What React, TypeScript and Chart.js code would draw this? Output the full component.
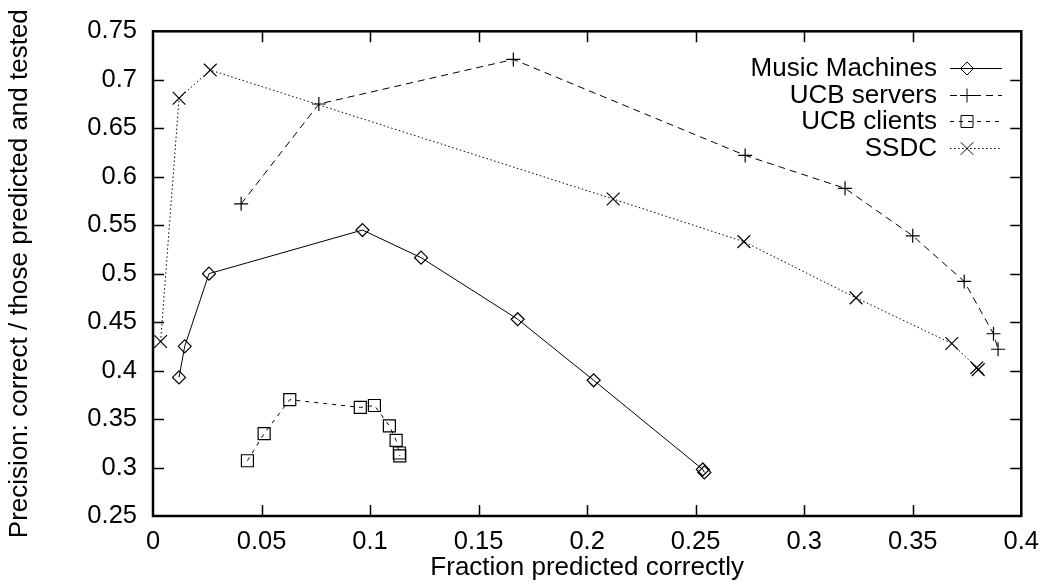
import React, { useEffect, useRef } from 'react';
import { Chart, registerables } from 'chart.js';

Chart.register(...registerables);

const seriesNames = ['Music Machines', 'UCB servers', 'UCB clients', 'SSDC'];

const musicX = [0.012, 0.0146, 0.0258, 0.0965, 0.1235, 0.168, 0.203, 0.2533, 0.254];
const musicY = [0.393, 0.425, 0.5, 0.545, 0.5165, 0.453, 0.39, 0.298, 0.295];

const serversX = [0.0406, 0.0764, 0.166, 0.2728, 0.3188, 0.35, 0.3737, 0.3872, 0.3893];
const serversY = [0.572, 0.675, 0.721, 0.622, 0.588, 0.539, 0.492, 0.438, 0.422];

const clientsX = [0.0435, 0.0512, 0.063, 0.0955, 0.102, 0.1089, 0.112, 0.1135, 0.1137];
const clientsY = [0.307, 0.335, 0.37, 0.362, 0.364, 0.343, 0.328, 0.315, 0.312];

const ssdcX = [0.0035, 0.012, 0.0264, 0.212, 0.2722, 0.3239, 0.368, 0.3795, 0.3802];
const ssdcY = [0.43, 0.681, 0.71, 0.577, 0.533, 0.475, 0.428, 0.403, 0.401];

const xTickLabels = ['0', '0.05', '0.1', '0.15', '0.2', '0.25', '0.3', '0.35', '0.4'];
const yTickLabels = ['0.25', '0.3', '0.35', '0.4', '0.45', '0.5', '0.55', '0.6', '0.65', '0.7', '0.75'];

const xTitle = 'Fraction predicted correctly';
const yTitle = 'Precision: correct / those predicted and tested';

const FONT = "'Liberation Sans', Arial, Helvetica, sans-serif";
const TICK_SIZE = 25.5;
const TITLE_SIZE = 26;

function pts(xs: number[], ys: number[]) {
  return xs.map((x, i) => ({ x, y: ys[i] }));
}

const styles = [
  { pointStyle: 'rectRot', radius: 6.5, dash: [] as number[] },
  { pointStyle: 'cross', radius: 7, dash: [7, 5] },
  { pointStyle: 'rect', radius: 8.5, dash: [4, 5] },
  { pointStyle: 'crossRot', radius: 9, dash: [1.5, 2.5] },
];

function drawMarker(ctx: CanvasRenderingContext2D, style: string, x: number, y: number, r: number) {
  ctx.beginPath();
  if (style === 'rectRot') {
    ctx.moveTo(x, y - r);
    ctx.lineTo(x + r, y);
    ctx.lineTo(x, y + r);
    ctx.lineTo(x - r, y);
    ctx.closePath();
  } else if (style === 'cross') {
    ctx.moveTo(x - r, y);
    ctx.lineTo(x + r, y);
    ctx.moveTo(x, y - r);
    ctx.lineTo(x, y + r);
  } else if (style === 'rect') {
    const s = Math.SQRT1_2 * r;
    ctx.rect(x - s, y - s, 2 * s, 2 * s);
  } else {
    const s = Math.SQRT1_2 * r;
    ctx.moveTo(x - s, y - s);
    ctx.lineTo(x + s, y + s);
    ctx.moveTo(x - s, y + s);
    ctx.lineTo(x + s, y - s);
  }
  ctx.stroke();
}

const framePlugin = {
  id: 'frameTicks',
  afterDraw(chart: any) {
    const { ctx, chartArea, scales } = chart;
    const { left, right, top, bottom } = chartArea;
    const x = scales.x;
    const y = scales.y;
    ctx.save();
    ctx.strokeStyle = '#000';
    ctx.lineWidth = 1.5;
    ctx.setLineDash([]);
    x.ticks.forEach((t: any) => {
      const px = Math.round(x.getPixelForValue(t.value)) + 0.5;
      if (px > left + 2 && px < right - 2) {
        ctx.beginPath();
        ctx.moveTo(px, bottom);
        ctx.lineTo(px, bottom - 11);
        ctx.moveTo(px, top);
        ctx.lineTo(px, top + 11);
        ctx.stroke();
      }
    });
    y.ticks.forEach((t: any) => {
      const py = Math.round(y.getPixelForValue(t.value)) + 0.5;
      if (py > top + 2 && py < bottom - 2) {
        ctx.beginPath();
        ctx.moveTo(left, py);
        ctx.lineTo(left + 11, py);
        ctx.moveTo(right, py);
        ctx.lineTo(right - 11, py);
        ctx.stroke();
      }
    });
    ctx.lineWidth = 2.5;
    ctx.strokeRect(left, top, right - left, bottom - top);

    // legend
    ctx.font = `${TITLE_SIZE}px ${FONT}`;
    ctx.fillStyle = '#000';
    ctx.textAlign = 'right';
    ctx.textBaseline = 'middle';
    const textRight = 937;
    const lineStart = 950;
    const lineEnd = 1002;
    const markerX = 967;
    const rowTop = 68;
    const rowGap = 26.5;
    chart.data.datasets.forEach((ds: any, i: number) => {
      const yy = rowTop + i * rowGap;
      ctx.fillText(ds.label, textRight, yy + 1);
      ctx.lineWidth = 1;
      ctx.setLineDash(styles[i].dash);
      ctx.beginPath();
      ctx.moveTo(lineStart, Math.round(yy) + 0.5);
      ctx.lineTo(lineEnd, Math.round(yy) + 0.5);
      ctx.stroke();
      ctx.setLineDash([]);
      drawMarker(ctx, styles[i].pointStyle, markerX, Math.round(yy) + 0.5, styles[i].radius);
    });
    ctx.restore();
  },
};

export default function App() {
  const canvasRef = useRef<HTMLCanvasElement | null>(null);

  useEffect(() => {
    if (!canvasRef.current) return;
    const series = [
      pts(musicX, musicY),
      pts(serversX, serversY),
      pts(clientsX, clientsY),
      pts(ssdcX, ssdcY),
    ];
    const chart = new Chart(canvasRef.current, {
      type: 'scatter',
      data: {
        datasets: series.map((data, i) => ({
          label: seriesNames[i],
          data,
          showLine: true,
          borderColor: '#000',
          borderWidth: 1,
          borderDash: styles[i].dash,
          backgroundColor: 'rgba(0,0,0,0)',
          pointBorderColor: '#000',
          pointBackgroundColor: 'rgba(0,0,0,0)',
          pointBorderWidth: 1.2,
          pointStyle: styles[i].pointStyle as any,
          pointRadius: styles[i].radius,
          tension: 0,
        })),
      },
      options: {
        responsive: false,
        animation: false,
        layout: { padding: { left: 0, top: 30, right: 22, bottom: 0 } },
        plugins: {
          legend: { display: false },
          tooltip: { enabled: false },
        },
        scales: {
          x: {
            type: 'linear',
            min: 0,
            max: 0.4,
            afterFit: (s: any) => {
              s.height = 70;
            },
            ticks: {
              stepSize: 0.05,
              color: '#000',
              padding: 11,
              maxRotation: 0,
              font: { family: FONT, size: TICK_SIZE },
              callback: (_v: any, i: number) => xTickLabels[i],
            },
            grid: { display: false, drawTicks: false },
            border: { display: false },
            title: {
              display: true,
              text: xTitle,
              color: '#000',
              font: { family: FONT, size: TITLE_SIZE },
              padding: { top: 0, bottom: 3 },
            },
          },
          y: {
            type: 'linear',
            min: 0.25,
            max: 0.75,
            afterFit: (s: any) => {
              s.width = 153;
            },
            ticks: {
              stepSize: 0.05,
              color: '#000',
              padding: 16,
              font: { family: FONT, size: TICK_SIZE },
              callback: (_v: any, i: number) => yTickLabels[i],
            },
            grid: { display: false, drawTicks: false },
            border: { display: false },
            title: {
              display: true,
              text: yTitle,
              color: '#000',
              font: { family: FONT, size: TITLE_SIZE },
              padding: { top: 4, bottom: 0 },
            },
          },
        },
      },
      plugins: [framePlugin],
    });
    return () => chart.destroy();
  }, []);

  return (
    <div style={{ position: 'fixed', left: 0, top: 0, width: 1050, height: 586, background: '#fff' }}>
      <canvas ref={canvasRef} width={1050} height={586} />
    </div>
  );
}
